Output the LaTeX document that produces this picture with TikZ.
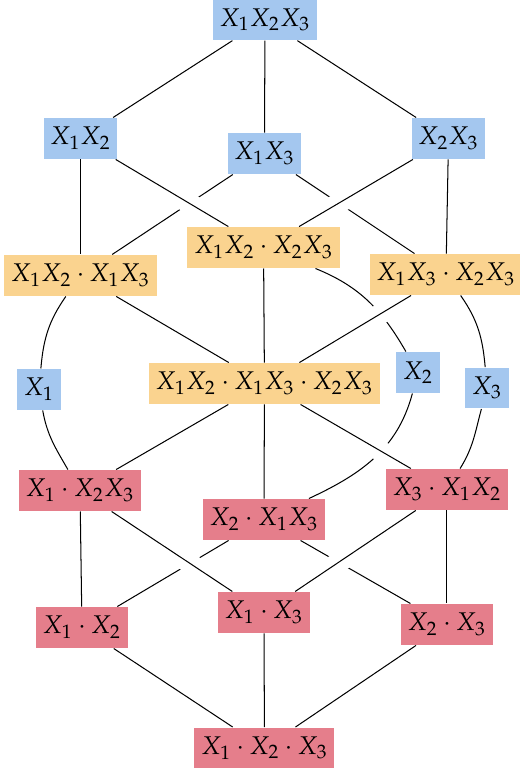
\documentclass[tikz,border=0pt]{standalone}
\usepackage{mathpazo}
\usepackage{xcolor}
\usetikzlibrary{backgrounds}
\definecolor{lightblue}{RGB}{164,199,239}
\definecolor{lightorange}{RGB}{250,211,143}
\definecolor{lightred}{RGB}{229,126,139}
\tikzset{
  box/.style={inner xsep=2.6pt, inner ysep=0pt, minimum height=16pt},
  gen/.style={box, fill=lightblue},
  pair/.style={box, fill=lightorange},
  prod/.style={box, fill=lightred},
  gap/.style={preaction={draw, white, line width=8pt}}
}

\begin{document}
\begin{tikzpicture}
  \useasboundingbox (0,0) rectangle (7.143,-10.591);

  % Top and generators
  \node[gen] (t) at (3.64,-0.27) {$X_1X_2X_3$};
  \node[gen] (p12) at (1.106,-1.902) {$X_1X_2$};
  \node[gen] (p13) at (3.633,-2.109) {$X_1X_3$};
  \node[gen] (p23) at (6.161,-1.902) {$X_2X_3$};

  % Products of pairs
  \node[pair] (q1) at (1.106,-3.784) {$X_1X_2\cdot X_1X_3$};
  \node[pair] (q2) at (3.62,-3.40) {$X_1X_2\cdot X_2X_3$};
  \node[pair] (q3) at (6.126,-3.771) {$X_1X_3\cdot X_2X_3$};
  \node[pair] (c) at (3.633,-5.268) {$X_1X_2\cdot X_1X_3\cdot X_2X_3$};

  % Single variables
  \node[gen] (s1) at (0.536,-5.350) {$X_1$};
  \node[gen] (s2) at (5.742,-5.117) {$X_2$};
  \node[gen] (s3) at (6.69,-5.33) {$X_3$};

  % Lower products
  \node[prod] (r1) at (1.099,-6.738) {$X_1\cdot X_2X_3$};
  \node[prod] (r2) at (3.626,-7.136) {$X_2\cdot X_1X_3$};
  \node[prod] (r3) at (6.14,-6.724) {$X_3\cdot X_1X_2$};
  \node[prod] (b12) at (1.126,-8.62) {$X_1\cdot X_2$};
  \node[prod] (b13) at (3.626,-8.413) {$X_1\cdot X_3$};
  \node[prod] (b23) at (6.14,-8.578) {$X_2\cdot X_3$};
  \node[prod] (bot) at (3.633,-10.275) {$X_1\cdot X_2\cdot X_3$};

  \begin{scope}[on background layer]
    % Plain edges
    \foreach \a/\b in {t/p12, t/p13, t/p23, p12/q1, p23/q3,
                       q1/c, q2/c, r1/b12, r3/b23, c/r1, c/r2,
                       b12/bot, b13/bot, b23/bot} {
      \draw (\a) -- (\b);
    }

    % Edges passing below
    \draw (p13) -- (q1);
    \draw (p13) -- (q3);
    \draw (r2) -- (b12);
    \draw (r2) -- (b23);
    \draw (q2) to[out=-22,in=120] (s2);
    \draw (s2) to[out=-105,in=25] (r2);

    % Edges passing above
    \foreach \a/\b in {p12/q2, p23/q2, q3/c, c/r3, r1/b13, r3/b13} {
      \draw[gap] (\a) -- (\b);
    }

    % Curves through X1 and X3
    \draw (q1) to[out=235,in=85] (s1);
    \draw (s1) to[out=-80,in=120] (r1);
    \draw (q3) to[out=-55,in=95] (s3);
    \draw (s3) to[out=-105,in=58] (r3);
  \end{scope}
\end{tikzpicture}
\end{document}
